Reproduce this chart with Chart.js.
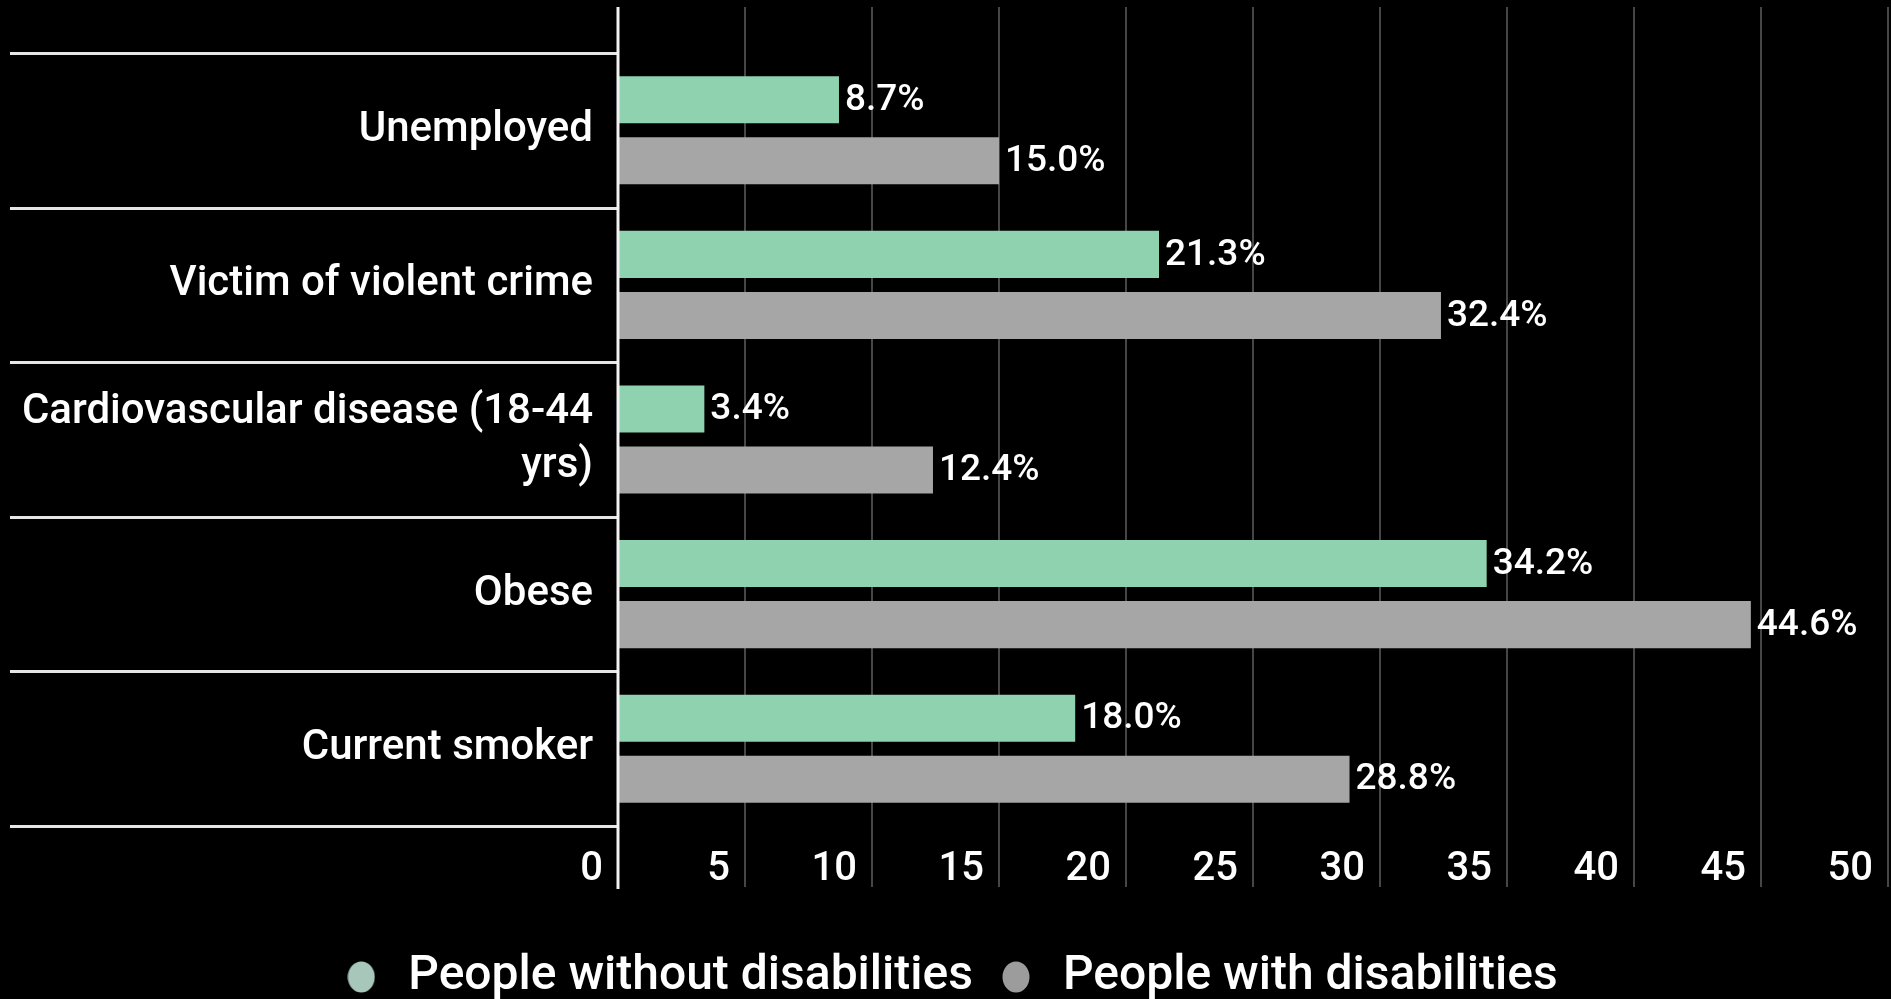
<!DOCTYPE html>
<html>
<head>
<meta charset="utf-8">
<title>Disability outcomes</title>
<script src="https://cdn.jsdelivr.net/npm/chart.js@4.4.0/dist/chart.umd.min.js"></script>
<style>
  html, body { margin: 0; padding: 0; background: #000; overflow: hidden; }
  #wrap { position: absolute; left: 0; top: 0; width: 1900px; height: 1016px; }
</style>
</head>
<body>
<div id="wrap"><canvas id="chart"></canvas></div>
<script>
// Categories (top to bottom) and percentages for each group
const categories = [
  'Unemployed',
  'Victim of violent crime',
  ['Cardiovascular disease (18-44', 'yrs)'],
  'Obese',
  'Current smoker'
];
const withoutDisabilities = [8.7, 21.3, 3.4, 34.2, 18.0];
const withDisabilities = [15.0, 32.4, 12.4, 44.6, 28.8];
const seriesNames = ['People without disabilities', 'People with disabilities'];
const axisMin = 0;
const axisMax = 50;
const axisStep = 5;

const barColors = ['#8ed2b0', '#a6a6a6'];
const legendColors = ['#a6c7b9', '#9c9c9c'];
const FONT = 'Roboto, "Noto Sans", sans-serif';

// Oval legend markers, slightly taller than wide
function makeMarker(color) {
  const c = document.createElement('canvas');
  c.width = 28;
  c.height = 32;
  const g = c.getContext('2d');
  g.fillStyle = color;
  g.beginPath();
  g.ellipse(14, 16, 13.5, 15.5, 0, 0, Math.PI * 2);
  g.fill();
  return c;
}
const legendMarkers = legendColors.map(makeMarker);

// Background, vertical grid, category separators, axis line and value labels
const decorations = {
  id: 'decorations',
  beforeDraw(chart) {
    const { ctx, width, height } = chart;
    ctx.save();
    ctx.fillStyle = '#000';
    ctx.fillRect(0, 0, width, height);
    ctx.restore();
  },
  beforeDatasetsDraw(chart) {
    const { ctx } = chart;
    const xs = chart.scales.x, ys = chart.scales.y;
    const top = 7, bottom = 887;
    ctx.save();
    ctx.strokeStyle = '#464646';
    ctx.lineWidth = 2;
    xs.ticks.forEach(t => {
      if (t.value === axisMin) return;
      const px = Math.round(xs.getPixelForValue(t.value));
      ctx.beginPath();
      ctx.moveTo(px, top);
      ctx.lineTo(px, bottom);
      ctx.stroke();
    });
    // separators between categories, spanning the label column
    ctx.strokeStyle = '#e6e6e6';
    ctx.lineWidth = 3;
    for (let i = 0; i <= categories.length; i++) {
      const py = Math.round(ys.getPixelForValue(i - 0.5)) + 0.5;
      ctx.beginPath();
      ctx.moveTo(10, py);
      ctx.lineTo(chart.chartArea.left, py);
      ctx.stroke();
    }
    ctx.restore();
  },
  afterDatasetsDraw(chart) {
    const { ctx } = chart;
    const xs = chart.scales.x;
    ctx.save();
    // zero axis line
    const x0 = Math.round(xs.getPixelForValue(axisMin));
    ctx.strokeStyle = '#f2f2f2';
    ctx.lineWidth = 3;
    ctx.beginPath();
    ctx.moveTo(x0, 7);
    ctx.lineTo(x0, 889);
    ctx.stroke();
    // value labels at the end of each bar
    ctx.fillStyle = '#ffffff';
    ctx.font = '500 37px ' + FONT;
    ctx.textAlign = 'left';
    ctx.textBaseline = 'middle';
    chart.data.datasets.forEach((ds, di) => {
      chart.getDatasetMeta(di).data.forEach((bar, i) => {
        ctx.fillText(ds.data[i].toFixed(1) + '%', bar.x + 6, bar.y + 1);
      });
    });
    ctx.restore();
  }
};

new Chart(document.getElementById('chart'), {
  type: 'bar',
  data: {
    labels: categories,
    datasets: [
      {
        label: seriesNames[0],
        data: withoutDisabilities,
        backgroundColor: barColors[0],
        borderWidth: 0,
        categoryPercentage: 0.79,
        barPercentage: 0.77
      },
      {
        label: seriesNames[1],
        data: withDisabilities,
        backgroundColor: barColors[1],
        borderWidth: 0,
        categoryPercentage: 0.79,
        barPercentage: 0.77
      }
    ]
  },
  options: {
    indexAxis: 'y',
    responsive: true,
    maintainAspectRatio: false,
    animation: false,
    layout: { padding: { top: 53, right: 4, bottom: 5, left: 0 } },
    scales: {
      x: {
        type: 'linear',
        min: axisMin,
        max: axisMax,
        grid: { display: false },
        border: { display: false },
        afterFit(scale) { scale.height = 107; },
        ticks: {
          stepSize: axisStep,
          color: '#ffffff',
          font: { family: FONT, size: 40, weight: '500' },
          align: 'end',
          labelOffset: -15,
          padding: 12,
          maxRotation: 0,
          autoSkip: false
        }
      },
      y: {
        grid: { display: false },
        border: { display: false },
        afterFit(scale) { scale.width = 618; },
        ticks: {
          color: '#ffffff',
          font: { family: FONT, size: 42, weight: '500', lineHeight: 1.3 },
          padding: 17,
          autoSkip: false
        }
      }
    },
    plugins: {
      tooltip: { enabled: false },
      legend: {
        position: 'bottom',
        labels: {
          color: '#ffffff',
          font: { family: FONT, size: 48, weight: '500' },
          usePointStyle: true,
          pointStyleWidth: 46,
          boxHeight: 32,
          padding: 20,
          generateLabels(chart) {
            const items = Chart.defaults.plugins.legend.labels.generateLabels(chart);
            items.forEach((it, i) => {
              it.pointStyle = legendMarkers[i];
              it.fillStyle = legendColors[i];
              it.strokeStyle = legendColors[i];
              it.lineWidth = 0;
            });
            return items;
          }
        }
      }
    }
  },
  plugins: [decorations]
});
</script>
</body>
</html>
